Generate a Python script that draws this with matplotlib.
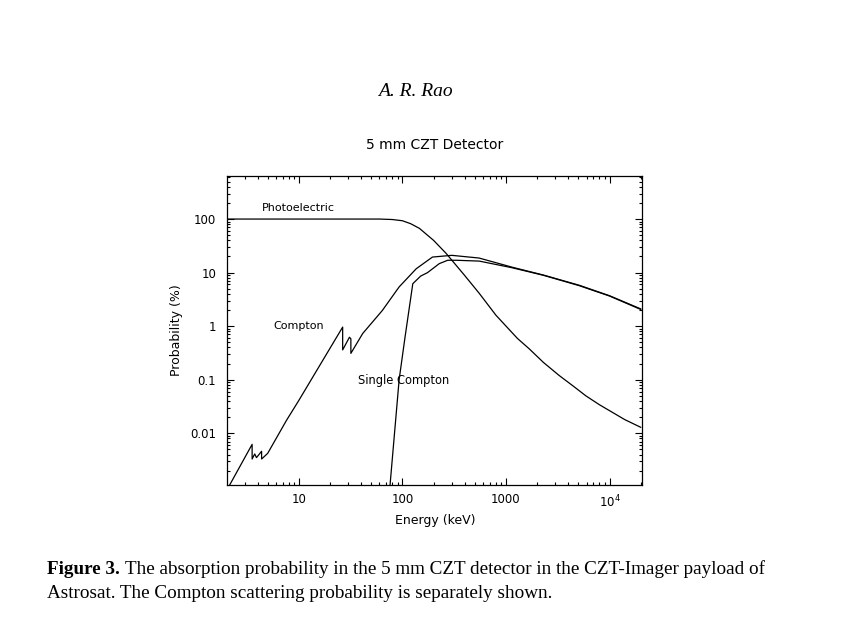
import numpy as np
import matplotlib
matplotlib.use('Agg')
import matplotlib.pyplot as plt
from matplotlib.ticker import LogLocator, NullFormatter, FixedLocator, FixedFormatter

# values (energy in keV, probability in %)
photo_e = [2.04, 30, 60, 80, 100, 120, 146, 200, 264, 400, 552, 800, 1290, 1670, 2300, 3260, 4500, 5900, 8000, 10600, 14000, 20000]
photo_p = [100, 100, 100, 98, 93, 82, 67, 40, 22.9, 8.8, 4.1, 1.6, 0.59, 0.38, 0.21, 0.12, 0.075, 0.050, 0.034, 0.0247, 0.018, 0.0129]

compton_e = [2.04, 3.54, 3.54, 3.75, 3.9, 4.37, 4.37, 4.8, 5.0, 7.6, 10, 26.5, 26.5, 30.8, 31.8, 31.8, 41.4, 64, 93, 136, 195, 300, 550, 1150, 2300, 5100, 10000, 20000]
compton_p = [0.0009, 0.0062, 0.0033, 0.0041, 0.0035, 0.0046, 0.0033, 0.0039, 0.0042, 0.0174, 0.041, 0.96, 0.36, 0.62, 0.58, 0.31, 0.73, 1.96, 5.4, 11.8, 19.5, 21, 18.7, 12.6, 9.0, 5.8, 3.7, 2.1]

single_e = [74, 76, 93, 106, 126, 150, 175, 227, 274, 330, 552, 1150, 2300, 5100, 10000, 20000]
single_p = [0.0005, 0.00108, 0.1, 0.62, 6.2, 8.6, 10, 14.7, 17, 17, 16.4, 12.3, 8.9, 5.7, 3.65, 2.05]

xticks = [10, 100, 1000, 10000]
xtick_labels = ['10', '100', '1000', r'$10^4$']
yticks = [0.01, 0.1, 1, 10, 100]
ytick_labels = ['0.01', '0.1', '1', '10', '100']

caption_bold = 'Figure 3.'
caption_1 = 'The absorption probability in the 5 mm CZT detector in the CZT-Imager payload of'
caption_2 = 'Astrosat. The Compton scattering probability is separately shown.'

plt.rcParams['font.family'] = ['DejaVu Sans']

W, H = 854, 630
fig = plt.figure(figsize=(W / 100, H / 100), dpi=100)
ax = fig.add_axes([0.2662, 0.2302, 0.4861, 0.4909])

lw = 0.9
ax.plot(photo_e, photo_p, '-', color='black', lw=lw)
ax.plot(compton_e, compton_p, '-', color='black', lw=lw)
ax.plot(single_e, single_p, '-', color='black', lw=lw)

ax.set_xscale('log')
ax.set_yscale('log')
ax.set_xlim(2.04, 20800)
ax.set_ylim(0.00108, 645)

ax.xaxis.set_major_locator(FixedLocator(xticks))
ax.xaxis.set_major_formatter(FixedFormatter(xtick_labels))
ax.yaxis.set_major_locator(FixedLocator(yticks))
ax.yaxis.set_major_formatter(FixedFormatter(ytick_labels))
ax.xaxis.set_minor_locator(LogLocator(base=10, subs=np.arange(2, 10)))
ax.yaxis.set_minor_locator(LogLocator(base=10, subs=np.arange(2, 10)))
ax.xaxis.set_minor_formatter(NullFormatter())
ax.yaxis.set_minor_formatter(NullFormatter())

ax.tick_params(which='both', direction='in', top=True, right=True, width=0.8, labelsize=8.5)
ax.tick_params(axis='x', pad=6)
ax.tick_params(axis='y', pad=8)
ax.tick_params(which='major', length=5)
ax.tick_params(which='minor', length=2.5)
for s in ax.spines.values():
    s.set_linewidth(0.9)

ax.set_xlabel('Energy (keV)', fontsize=9, labelpad=3)
ax.set_ylabel('Probability (%)', fontsize=9, labelpad=5.5)
ax.set_title('5 mm CZT Detector', fontsize=10, pad=19)

ax.text(4.4, 160, 'Photoelectric', fontsize=8, va='center', ha='left')
ax.text(5.7, 1.0, 'Compton', fontsize=8, va='center', ha='left')
ax.text(37, 0.095, 'Single Compton', fontsize=8.3, va='center', ha='left')

fig.text(415 / W, 1 - 92 / H, 'A. R. Rao', family='Liberation Serif', style='italic',
         fontsize=14, ha='center', va='center')

# caption: bold lead then plain text
cx = 46.7 / W
cap = fig.text(cx, 1 - 569 / H, caption_bold, family='Liberation Serif',
               weight='bold', fontsize=13.75, ha='left', va='center')
fig.canvas.draw()
bb = cap.get_window_extent()
fig.text((bb.x1 + 5) / W, 1 - 569 / H, caption_1,
         family='Liberation Serif', fontsize=13.75, ha='left', va='center')
fig.text(cx, 1 - 593 / H, caption_2,
         family='Liberation Serif', fontsize=13.75, ha='left', va='center')

fig.savefig('out.png', dpi=100)
